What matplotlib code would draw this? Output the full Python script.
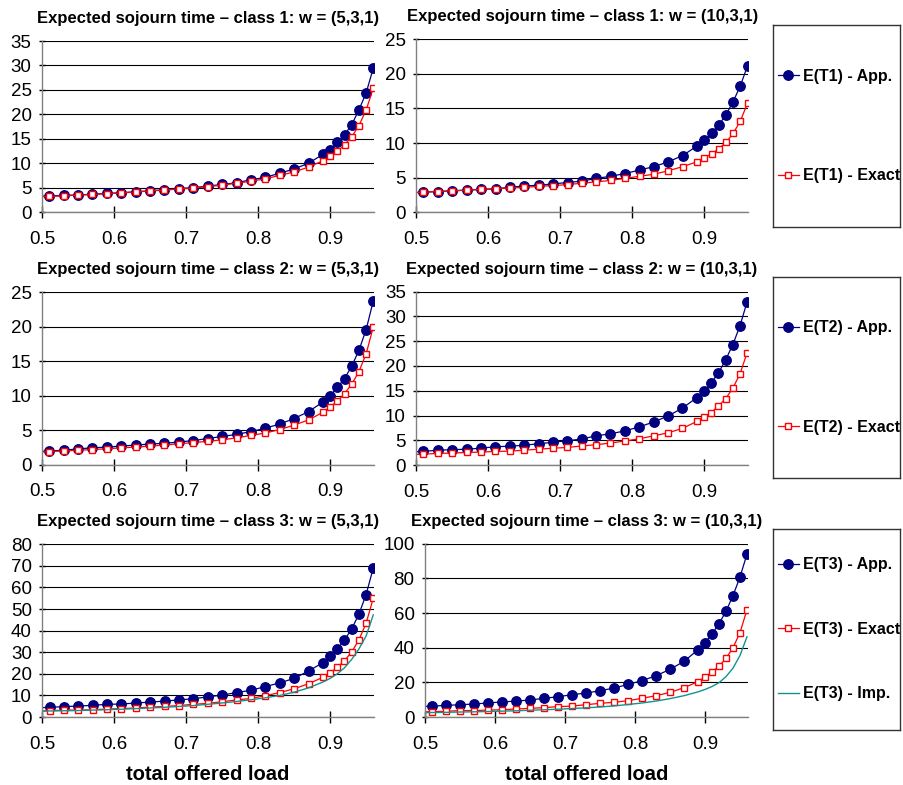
import matplotlib
matplotlib.use("Agg")
import matplotlib.pyplot as plt

plt.rcParams['font.family'] = ['Liberation Sans', 'DejaVu Sans']

# --- DATA (first point at 0.49 only feeds the line up to the left edge) ---
load = [0.49, 0.51, 0.53, 0.55, 0.57, 0.59, 0.61, 0.63, 0.65, 0.67, 0.69, 0.71, 0.73, 0.75,
        0.77, 0.79, 0.81, 0.83, 0.85, 0.87, 0.89, 0.90, 0.91, 0.92, 0.93, 0.94, 0.95, 0.96]

# class 1, w = (5,3,1)
t1_app_531 = [3.2, 3.3, 3.4, 3.5, 3.65, 3.8, 3.95, 4.15, 4.35, 4.55, 4.8, 5.0, 5.3, 5.65,
              6.0, 6.6, 7.1, 7.95, 8.8, 10.0, 11.8, 12.8, 14.3, 15.8, 17.9, 20.9, 24.4, 29.5]
t1_exa_531 = [3.1, 3.2, 3.3, 3.45, 3.6, 3.75, 3.9, 4.1, 4.3, 4.5, 4.7, 4.9, 5.2, 5.5,
              5.9, 6.3, 6.8, 7.5, 8.2, 9.2, 10.5, 11.4, 12.4, 13.8, 15.4, 17.7, 20.9, 25.4]
# class 1, w = (10,3,1)
t1_app_1031 = [2.8, 2.9, 3.0, 3.1, 3.2, 3.3, 3.4, 3.6, 3.8, 3.9, 4.1, 4.3, 4.5, 4.9,
               5.2, 5.6, 6.1, 6.6, 7.3, 8.2, 9.6, 10.4, 11.4, 12.6, 14.1, 16.0, 18.3, 21.2]
t1_exa_1031 = [2.8, 2.9, 3.0, 3.1, 3.2, 3.3, 3.4, 3.5, 3.6, 3.75, 3.85, 4.0, 4.2, 4.4,
               4.6, 4.9, 5.2, 5.5, 6.0, 6.6, 7.3, 7.9, 8.4, 9.2, 10.1, 11.4, 13.2, 15.8]

# class 2, w = (5,3,1)
t2_app_531 = [1.9, 2.0, 2.1, 2.3, 2.45, 2.55, 2.7, 2.85, 3.0, 3.1, 3.3, 3.5, 3.8, 4.1,
              4.4, 4.8, 5.3, 5.9, 6.7, 7.7, 9.1, 10.0, 11.2, 12.5, 14.3, 16.6, 19.6, 23.8]
t2_exa_531 = [1.8, 1.9, 2.0, 2.1, 2.2, 2.3, 2.45, 2.55, 2.7, 2.85, 3.05, 3.2, 3.4, 3.6,
              3.9, 4.25, 4.6, 5.1, 5.75, 6.5, 7.6, 8.4, 9.2, 10.3, 11.7, 13.5, 16.1, 20.0]
# class 2, w = (10,3,1)
t2_app_1031 = [2.6, 2.75, 3.0, 3.1, 3.2, 3.4, 3.7, 3.8, 4.0, 4.3, 4.6, 4.9, 5.25, 5.9,
               6.3, 6.9, 7.7, 8.7, 9.9, 11.5, 13.6, 14.9, 16.6, 18.6, 21.2, 24.3, 28.1, 33.0]
t2_exa_1031 = [2.1, 2.2, 2.35, 2.4, 2.55, 2.6, 2.75, 2.8, 3.0, 3.2, 3.4, 3.55, 3.85, 4.1,
               4.45, 4.85, 5.3, 5.9, 6.5, 7.4, 8.8, 9.6, 10.6, 11.9, 13.4, 15.5, 18.4, 22.7]

# class 3, w = (5,3,1)
t3_app_531 = [4.2, 4.5, 4.8, 5.1, 5.4, 5.9, 6.0, 6.5, 6.9, 7.4, 7.9, 8.5, 9.3, 10.2,
              11.3, 12.4, 14.1, 15.8, 17.9, 21.3, 25.2, 28.3, 31.5, 35.7, 40.8, 47.6, 56.7, 69.0]
t3_exa_531 = [2.7, 2.9, 3.2, 3.2, 3.4, 3.7, 3.9, 4.2, 4.6, 4.9, 5.3, 5.9, 6.3, 7.1,
              7.9, 8.6, 9.9, 11.3, 13.1, 15.4, 18.4, 20.4, 23.0, 26.1, 30.1, 35.7, 43.4, 55.0]
t3_imp_531 = [2.7, 2.8, 2.9, 3.0, 3.2, 3.4, 3.6, 3.9, 4.2, 4.5, 4.9, 5.3, 5.9, 6.5,
              7.2, 8.0, 8.9, 10.0, 11.5, 13.5, 16.2, 17.9, 20.0, 22.8, 26.7, 31.5, 37.5, 47.3]
# class 3, w = (10,3,1)
t3_app_1031 = [5.9, 6.3, 6.7, 7.1, 7.5, 8.1, 8.7, 9.2, 9.8, 10.8, 11.7, 12.9, 13.8, 15.2,
               16.7, 18.8, 21.0, 23.8, 27.5, 32.1, 38.8, 42.9, 47.9, 53.8, 61.0, 70.0, 80.8, 94.0]
t3_exa_1031 = [2.9, 3.1, 3.3, 3.7, 3.7, 4.0, 4.2, 4.6, 5.0, 5.4, 6.0, 6.3, 7.1, 7.9,
               8.5, 9.4, 10.8, 12.3, 14.2, 16.9, 20.4, 23.1, 26.0, 29.4, 33.8, 40.0, 48.7, 61.9]
t3_imp_1031 = [2.4, 2.6, 2.7, 2.9, 3.0, 3.2, 3.4, 3.6, 3.9, 4.2, 4.5, 4.9, 5.3, 5.8,
               6.4, 7.2, 8.1, 9.2, 10.6, 12.3, 14.5, 15.9, 17.6, 19.8, 23.3, 28.2, 35.5, 46.3]

x_ticks = [0.5, 0.6, 0.7, 0.8, 0.9]
x_tick_labels = ["0.5", "0.6", "0.7", "0.8", "0.9"]

# --- STYLE ---
NAVY = "#000080"
RED = "#FF0000"
TEAL = "#12928F"
GREY = "#808080"

fig = plt.figure(figsize=(9.04, 7.85), dpi=100)


def draw_panel(rect, title, ymax, ystep, app, exa, imp=None, xlabel=False):
    ax = fig.add_axes(rect)
    h_app, = ax.plot(load, app, color=NAVY, lw=0.9, marker='o', ms=6.8,
                     mfc=NAVY, mec=NAVY)
    h_exa, = ax.plot(load, exa, color=RED, lw=0.9, marker='s', ms=4.8,
                     mfc='white', mec=RED, mew=1.0)
    handles = [h_app, h_exa]
    if imp is not None:
        h_imp, = ax.plot(load, imp, color=TEAL, lw=1.0)
        handles.append(h_imp)

    ax.set_xlim(0.5, 0.961)
    ax.set_ylim(0, ymax)
    ax.set_xticks(x_ticks)
    ax.set_xticklabels(x_tick_labels)
    ax.set_yticks(range(0, ymax + 1, ystep))
    ax.yaxis.grid(True, color='black', lw=0.8)
    ax.set_axisbelow(True)

    for s in ('top', 'right'):
        ax.spines[s].set_visible(False)
    for s in ('left', 'bottom'):
        ax.spines[s].set_color(GREY)
        ax.spines[s].set_linewidth(1.0)

    ax.tick_params(axis='x', direction='inout', length=9, width=1, color='black',
                   labelsize=13.5, pad=9)
    ax.tick_params(axis='y', direction='inout', length=5, width=1, color='black',
                   labelsize=13.5, pad=5)
    ax.set_title(title, fontsize=12, fontweight='bold', pad=13)
    if xlabel:
        ax.set_xlabel("total offered load", fontsize=14.5, fontweight='bold', labelpad=9)
    return handles


def draw_legend_box(rect, handles, labels, spacing):
    lax = fig.add_axes(rect)
    lax.set_xticks([])
    lax.set_yticks([])
    for s in lax.spines.values():
        s.set_color('#333333')
        s.set_linewidth(1.0)
    lax.legend(handles, labels, loc='center left', bbox_to_anchor=(0.0, 0.5),
               frameon=False, borderaxespad=0.0, borderpad=0.3,
               handlelength=1.3, handletextpad=0.3, labelspacing=spacing,
               prop={'size': 11.5, 'weight': 'bold'})


h1 = draw_panel([0.0465, 0.7299, 0.3673, 0.2178],
                "Expected sojourn time \u2013 class 1: w = (5,3,1)", 35, 5,
                t1_app_531, t1_exa_531)
draw_panel([0.4605, 0.7296, 0.3673, 0.2204],
           "Expected sojourn time \u2013 class 1: w = (10,3,1)", 25, 5,
           t1_app_1031, t1_exa_1031)

h2 = draw_panel([0.0465, 0.4080, 0.3673, 0.2196],
                "Expected sojourn time \u2013 class 2: w = (5,3,1)", 25, 5,
                t2_app_531, t2_exa_531)
draw_panel([0.4605, 0.4076, 0.3668, 0.2208],
           "Expected sojourn time \u2013 class 2: w = (10,3,1)", 35, 5,
           t2_app_1031, t2_exa_1031)

h3 = draw_panel([0.0468, 0.0866, 0.3669, 0.2200],
                "Expected sojourn time \u2013 class 3: w = (5,3,1)", 80, 10,
                t3_app_531, t3_exa_531, t3_imp_531, xlabel=True)
draw_panel([0.4701, 0.0866, 0.3570, 0.2208],
           "Expected sojourn time \u2013 class 3: w = (10,3,1)", 100, 20,
           t3_app_1031, t3_exa_1031, t3_imp_1031, xlabel=True)

draw_legend_box([0.8551, 0.7108, 0.1405, 0.2573], h1,
                ["E(T1) - App.", "E(T1) - Exact"], 5.3)
draw_legend_box([0.8551, 0.3911, 0.1405, 0.2561], h2,
                ["E(T2) - App.", "E(T2) - Exact"], 5.3)
draw_legend_box([0.8551, 0.0701, 0.1405, 0.2561], h3,
                ["E(T3) - App.", "E(T3) - Exact", "E(T3) - Imp."], 3.1)

fig.savefig("out.png", dpi=100, facecolor='white')
